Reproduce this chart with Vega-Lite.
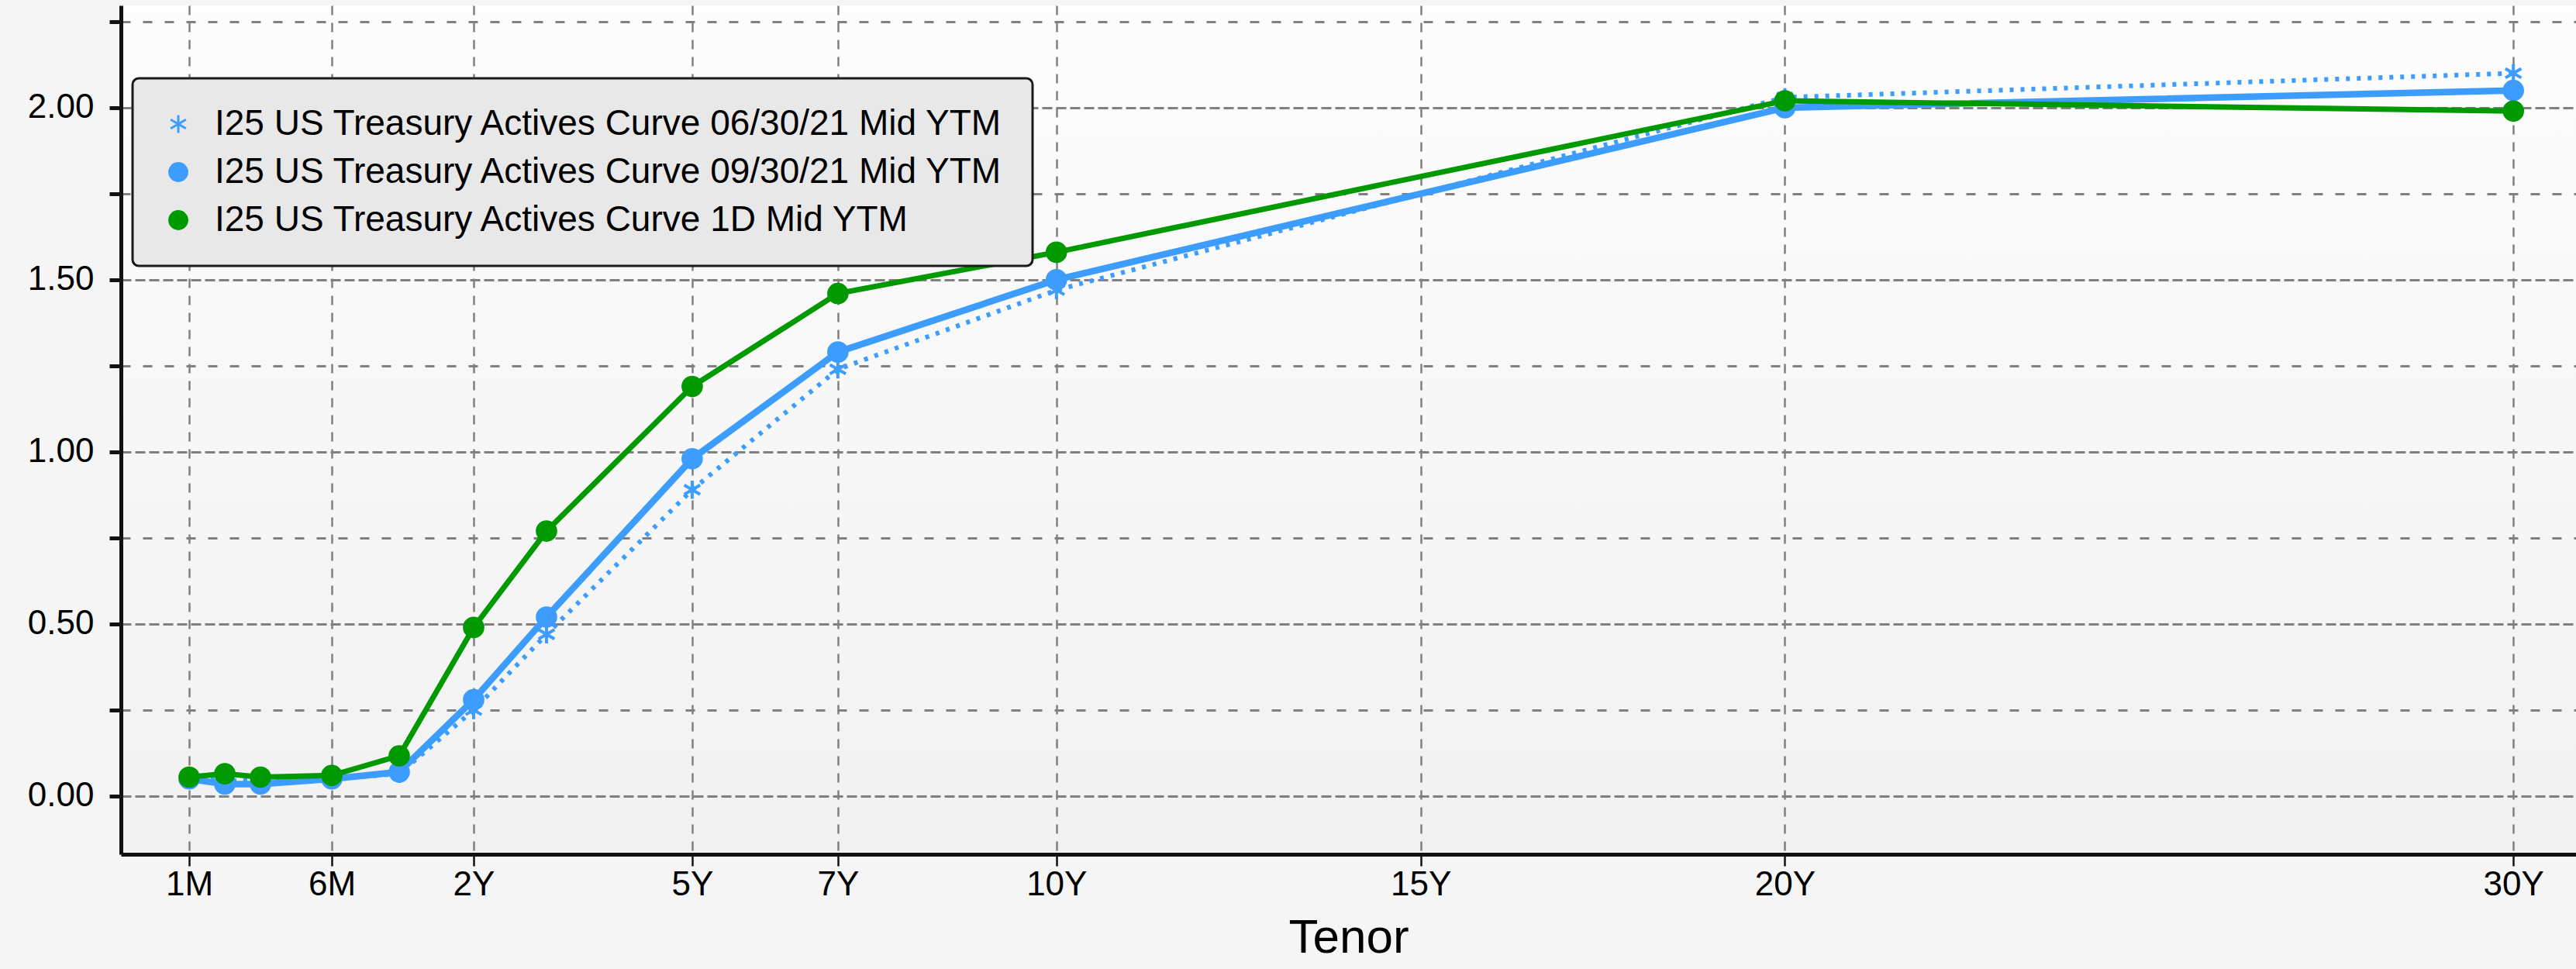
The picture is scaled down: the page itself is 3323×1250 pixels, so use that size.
{
  "$schema": "https://vega.github.io/schema/vega-lite/v6.json",
  "width": 3167,
  "height": 1095,
  "autosize": {"type": "none"},
  "padding": {"left": 156, "top": 7, "right": 0, "bottom": 148},
  "background": "#f5f5f5",
  "config": {
    "font": "Liberation Sans",
    "legend": {"strokeWidth": 3},
    "view": {
      "stroke": null,
      "fill": {"gradient": "linear", "x1": 0, "y1": 0, "x2": 0, "y2": 1, "stops": [{"offset": 0, "color": "#fdfdfd"}, {"offset": 1, "color": "#f1f1f1"}]}
    }
  },
  "data": {
    "values": [
      {"series": "I25 US Treasury Actives Curve 06/30/21 Mid YTM", "tenor": "1M", "years": 0.083333, "ytm": 0.05},
      {"series": "I25 US Treasury Actives Curve 06/30/21 Mid YTM", "tenor": "2M", "years": 0.166667, "ytm": 0.045},
      {"series": "I25 US Treasury Actives Curve 06/30/21 Mid YTM", "tenor": "3M", "years": 0.25, "ytm": 0.045},
      {"series": "I25 US Treasury Actives Curve 06/30/21 Mid YTM", "tenor": "6M", "years": 0.5, "ytm": 0.05},
      {"series": "I25 US Treasury Actives Curve 06/30/21 Mid YTM", "tenor": "1Y", "years": 1, "ytm": 0.065},
      {"series": "I25 US Treasury Actives Curve 06/30/21 Mid YTM", "tenor": "2Y", "years": 2, "ytm": 0.25},
      {"series": "I25 US Treasury Actives Curve 06/30/21 Mid YTM", "tenor": "3Y", "years": 3, "ytm": 0.47},
      {"series": "I25 US Treasury Actives Curve 06/30/21 Mid YTM", "tenor": "5Y", "years": 5, "ytm": 0.89},
      {"series": "I25 US Treasury Actives Curve 06/30/21 Mid YTM", "tenor": "7Y", "years": 7, "ytm": 1.24},
      {"series": "I25 US Treasury Actives Curve 06/30/21 Mid YTM", "tenor": "10Y", "years": 10, "ytm": 1.47},
      {"series": "I25 US Treasury Actives Curve 06/30/21 Mid YTM", "tenor": "20Y", "years": 20, "ytm": 2.03},
      {"series": "I25 US Treasury Actives Curve 06/30/21 Mid YTM", "tenor": "30Y", "years": 30, "ytm": 2.1},
      {"series": "I25 US Treasury Actives Curve 09/30/21 Mid YTM", "tenor": "1M", "years": 0.083333, "ytm": 0.05},
      {"series": "I25 US Treasury Actives Curve 09/30/21 Mid YTM", "tenor": "2M", "years": 0.166667, "ytm": 0.035},
      {"series": "I25 US Treasury Actives Curve 09/30/21 Mid YTM", "tenor": "3M", "years": 0.25, "ytm": 0.035},
      {"series": "I25 US Treasury Actives Curve 09/30/21 Mid YTM", "tenor": "6M", "years": 0.5, "ytm": 0.05},
      {"series": "I25 US Treasury Actives Curve 09/30/21 Mid YTM", "tenor": "1Y", "years": 1, "ytm": 0.07},
      {"series": "I25 US Treasury Actives Curve 09/30/21 Mid YTM", "tenor": "2Y", "years": 2, "ytm": 0.28},
      {"series": "I25 US Treasury Actives Curve 09/30/21 Mid YTM", "tenor": "3Y", "years": 3, "ytm": 0.52},
      {"series": "I25 US Treasury Actives Curve 09/30/21 Mid YTM", "tenor": "5Y", "years": 5, "ytm": 0.98},
      {"series": "I25 US Treasury Actives Curve 09/30/21 Mid YTM", "tenor": "7Y", "years": 7, "ytm": 1.29},
      {"series": "I25 US Treasury Actives Curve 09/30/21 Mid YTM", "tenor": "10Y", "years": 10, "ytm": 1.5},
      {"series": "I25 US Treasury Actives Curve 09/30/21 Mid YTM", "tenor": "20Y", "years": 20, "ytm": 2.0},
      {"series": "I25 US Treasury Actives Curve 09/30/21 Mid YTM", "tenor": "30Y", "years": 30, "ytm": 2.05},
      {"series": "I25 US Treasury Actives Curve 1D Mid YTM", "tenor": "1M", "years": 0.083333, "ytm": 0.055},
      {"series": "I25 US Treasury Actives Curve 1D Mid YTM", "tenor": "2M", "years": 0.166667, "ytm": 0.065},
      {"series": "I25 US Treasury Actives Curve 1D Mid YTM", "tenor": "3M", "years": 0.25, "ytm": 0.055},
      {"series": "I25 US Treasury Actives Curve 1D Mid YTM", "tenor": "6M", "years": 0.5, "ytm": 0.06},
      {"series": "I25 US Treasury Actives Curve 1D Mid YTM", "tenor": "1Y", "years": 1, "ytm": 0.117},
      {"series": "I25 US Treasury Actives Curve 1D Mid YTM", "tenor": "2Y", "years": 2, "ytm": 0.49},
      {"series": "I25 US Treasury Actives Curve 1D Mid YTM", "tenor": "3Y", "years": 3, "ytm": 0.77},
      {"series": "I25 US Treasury Actives Curve 1D Mid YTM", "tenor": "5Y", "years": 5, "ytm": 1.19},
      {"series": "I25 US Treasury Actives Curve 1D Mid YTM", "tenor": "7Y", "years": 7, "ytm": 1.46},
      {"series": "I25 US Treasury Actives Curve 1D Mid YTM", "tenor": "10Y", "years": 10, "ytm": 1.58},
      {"series": "I25 US Treasury Actives Curve 1D Mid YTM", "tenor": "20Y", "years": 20, "ytm": 2.02},
      {"series": "I25 US Treasury Actives Curve 1D Mid YTM", "tenor": "30Y", "years": 30, "ytm": 1.99}
    ]
  },
  "layer": [
    {
      "transform": [{"filter": "datum.series === 'I25 US Treasury Actives Curve 06/30/21 Mid YTM'"}],
      "mark": {"type": "line", "color": "#3c9dff", "strokeWidth": 6, "strokeDash": [5, 9]},
      "encoding": {
        "x": {
          "field": "years", "type": "quantitative",
          "scale": {"type": "linear", "domain": [-0.076, 0.083333, 0.166667, 0.25, 0.5, 1, 2, 30.86], "range": [0, 88, 134, 180, 272, 359, 455, 3167], "nice": false, "zero": false},
          "axis": {
            "title": "Tenor",
            "values": [0.083333, 0.5, 2, 5, 7, 10, 15, 20, 30],
            "labelExpr": "datum.value < 0.1 ? '1M' : (datum.value < 1 ? '6M' : datum.value + 'Y')",
            "grid": true, "gridColor": "#808080", "gridDash": [12, 10], "gridWidth": 2.5,
            "domainColor": "#111111", "domainWidth": 5,
            "tickColor": "#111111", "tickWidth": 2.5, "tickSize": 15,
            "labelFont": "Liberation Sans", "labelFontSize": 44, "labelColor": "#000000", "labelPadding": 2,
            "labelFlush": false, "labelOverlap": false, "labelBound": false,
            "titleFont": "Liberation Sans", "titleFontSize": 62, "titleFontWeight": "normal", "titleColor": "#000000", "titlePadding": 16
          }
        },
        "y": {
          "field": "ytm", "type": "quantitative",
          "scale": {"domain": [-0.169, 2.297], "nice": false, "zero": false},
          "axis": {
            "title": null,
            "values": [0, 0.25, 0.5, 0.75, 1, 1.25, 1.5, 1.75, 2, 2.25],
            "labelExpr": "(datum.value * 2) % 1 == 0 ? format(datum.value, '.2f') : ''",
            "grid": true, "gridColor": "#808080", "gridWidth": 3,
            "gridDash": {"condition": {"test": "(datum.value * 2) % 1 == 0", "value": [13, 5]}, "value": [12, 16]},
            "domainColor": "#111111", "domainWidth": 5,
            "tickColor": "#111111", "tickSize": 15, "tickWidth": 5,
            "labelFont": "Liberation Sans", "labelFontSize": 44, "labelColor": "#000000", "labelPadding": 20, "labelOverlap": false
          }
        }
      }
    },
    {
      "transform": [{"filter": "datum.series === 'I25 US Treasury Actives Curve 09/30/21 Mid YTM'"}],
      "mark": {"type": "line", "color": "#3c9dff", "strokeWidth": 8.5},
      "encoding": {
        "x": {"field": "years", "type": "quantitative"},
        "y": {"field": "ytm", "type": "quantitative"}
      }
    },
    {
      "transform": [{"filter": "datum.series === 'I25 US Treasury Actives Curve 1D Mid YTM'"}],
      "mark": {"type": "line", "color": "#009900", "strokeWidth": 7},
      "encoding": {
        "x": {"field": "years", "type": "quantitative"},
        "y": {"field": "ytm", "type": "quantitative"}
      }
    },
    {
      "mark": {"type": "point", "filled": true, "size": 560, "strokeWidth": 4, "opacity": 1},
      "encoding": {
        "x": {"field": "years", "type": "quantitative"},
        "y": {"field": "ytm", "type": "quantitative"},
        "color": {
          "field": "series", "type": "nominal",
          "scale": {"domain": ["I25 US Treasury Actives Curve 06/30/21 Mid YTM", "I25 US Treasury Actives Curve 09/30/21 Mid YTM", "I25 US Treasury Actives Curve 1D Mid YTM"], "range": ["#3c9dff", "#3c9dff", "#009900"]},
          "legend": {
            "orient": "none", "legendX": 15, "legendY": 94, "title": null,
            "padding": 36, "fillColor": "#e8e8e8", "strokeColor": "#1a1a1a", "cornerRadius": 8,
            "labelFont": "Liberation Sans", "labelFontSize": 46, "labelColor": "#000000", "labelLimit": 2000,
            "symbolSize": 520, "symbolStrokeWidth": 3, "rowPadding": 16, "labelOffset": 24
          }
        },
        "stroke": {
          "field": "series", "type": "nominal",
          "scale": {"domain": ["I25 US Treasury Actives Curve 06/30/21 Mid YTM", "I25 US Treasury Actives Curve 09/30/21 Mid YTM", "I25 US Treasury Actives Curve 1D Mid YTM"], "range": ["#3c9dff", "#3c9dff", "#009900"]}
        },
        "shape": {
          "field": "series", "type": "nominal",
          "scale": {"domain": ["I25 US Treasury Actives Curve 06/30/21 Mid YTM", "I25 US Treasury Actives Curve 09/30/21 Mid YTM", "I25 US Treasury Actives Curve 1D Mid YTM"], "range": ["M0,-1L0,1M-0.866,-0.5L0.866,0.5M-0.866,0.5L0.866,-0.5", "circle", "circle"]}
        }
      }
    }
  ]
}
